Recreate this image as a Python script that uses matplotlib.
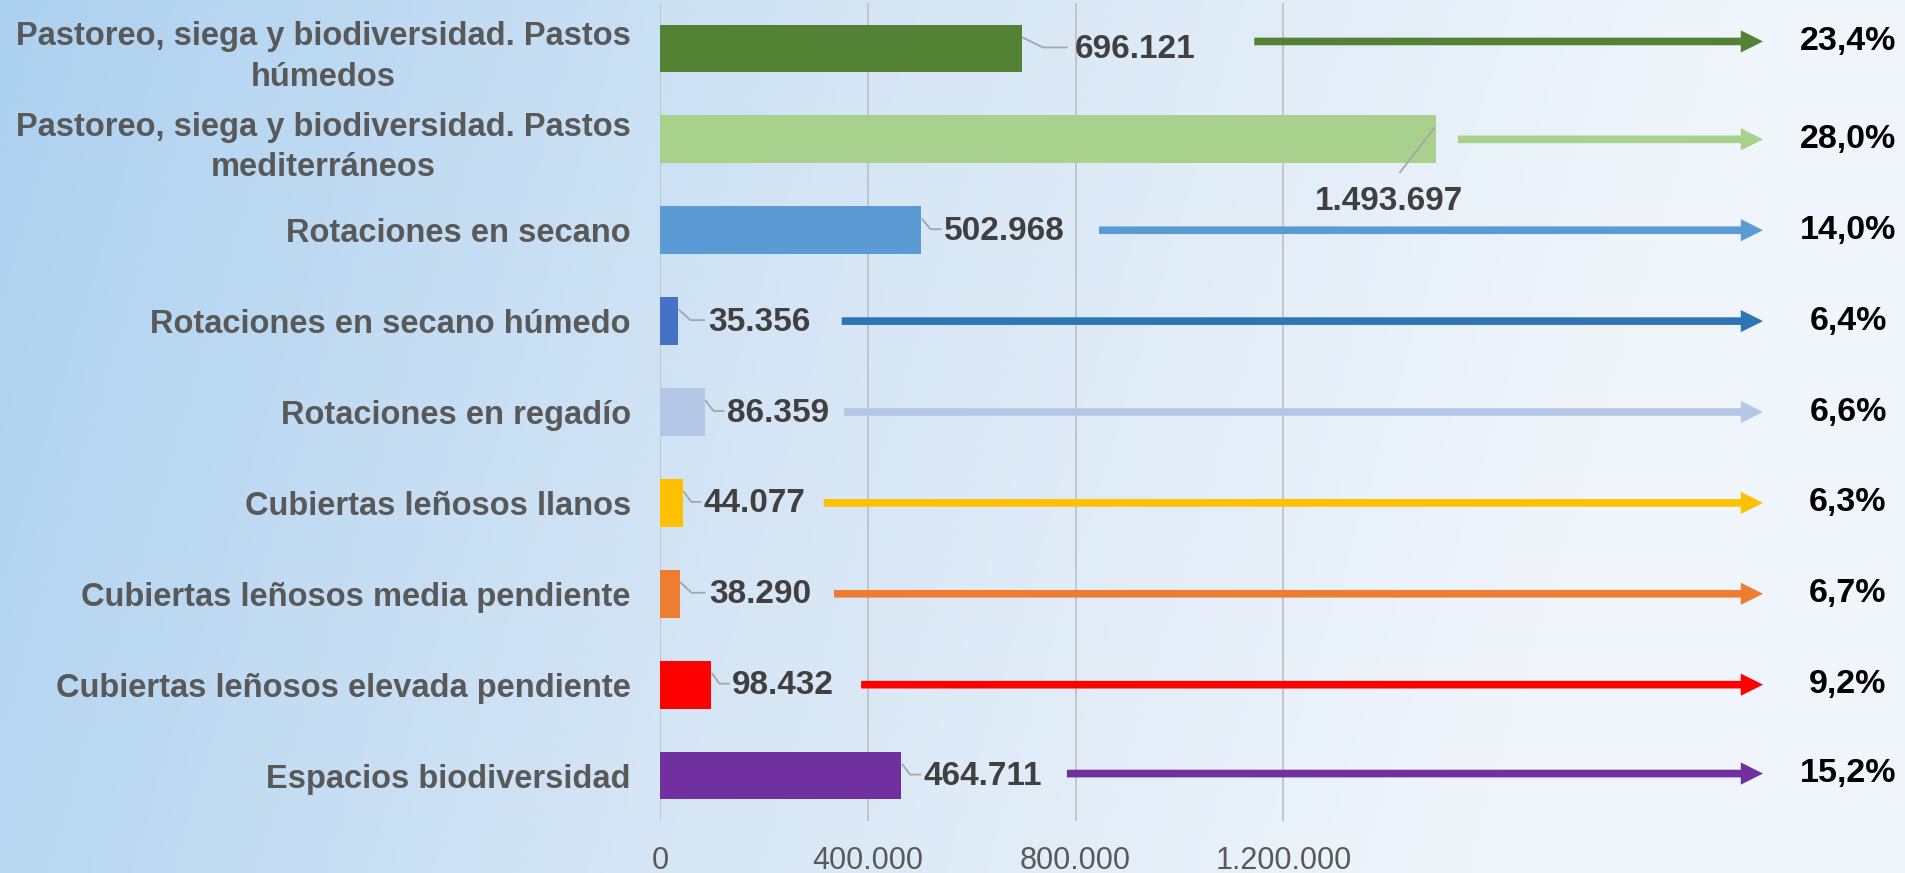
import matplotlib.pyplot as plt
import numpy as np
from matplotlib.patches import FancyArrowPatch

categories = [
    "Pastoreo, siega y biodiversidad. Pastos\nhúmedos",
    "Pastoreo, siega y biodiversidad. Pastos\nmediterráneos",
    "Rotaciones en secano",
    "Rotaciones en secano húmedo",
    "Rotaciones en regadío",
    "Cubiertas leñosos llanos",
    "Cubiertas leñosos media pendiente",
    "Cubiertas leñosos elevada pendiente",
    "Espacios biodiversidad",
]
values = [696121, 1493697, 502968, 35356, 86359, 44077, 38290, 98432, 464711]
shares = ["23,4%", "28,0%", "14,0%", "6,4%", "6,6%", "6,3%", "6,7%", "9,2%", "15,2%"]
ticks = [0, 400000, 800000, 1200000]
tick_labels = ["0", "400.000", "800.000", "1.200.000"]

bar_colors = ["#548235", "#A9D18E", "#5B9BD5", "#4472C4", "#B4C7E7",
              "#FFC000", "#ED7D31", "#FF0000", "#7030A0"]
arrow_colors = ["#548235", "#A9D18E", "#5B9BD5", "#2E75B6", "#B4C7E7",
                "#FFC000", "#ED7D31", "#FF0000", "#7030A0"]

# layout (pixels): bar end -> value label, value label -> arrow, arrow vertical nudge
label_gap = [53, 0, 23, 30, 22, 21, 29, 21, 22]
arrow_gap = [59, 22, 34, 31, 15, 18, 23, 27, 25]
arrow_dy = [-7, 0, 0, 0, 0, 0, 0, 0, -2]

W, H = 1905, 873
fig = plt.figure(figsize=(W / 100, H / 100), dpi=100)

# background gradient
bg = fig.add_axes([0, 0, 1, 1], zorder=-10)
gx = np.linspace(0, 1, 400)
gy = np.linspace(0, 1, 200)
X, Y = np.meshgrid(gx, gy)
left = np.array([172, 209, 240]) / 255
mid = np.array([212, 229, 245]) / 255
right = np.array([240, 245, 251]) / 255
t = np.clip(X * 1.1 + 0.15 * Y, 0, 1)[..., None]
img = np.where(t < 0.5, left + (mid - left) * (t / 0.5), mid + (right - mid) * ((t - 0.5) / 0.5))
bg.imshow(img, aspect="auto", extent=[0, 1, 0, 1], origin="upper")
bg.axis("off")

x0 = 660
ax_top, ax_bot = 3, 821
ax = fig.add_axes([x0 / W, 1 - ax_bot / H, 1 - x0 / W, (ax_bot - ax_top) / H])
ax.patch.set_alpha(0)
px_per_unit = 207.8 / 400000
ux = 1 / px_per_unit                      # data units per pixel (x)
uy = 9 / (ax_bot - ax_top)                # data units per pixel (y)
ax.set_xlim(0, (W - x0) * ux)
ax.set_ylim(8.5, -0.5)

y = np.arange(len(categories))
ax.barh(y, values, height=0.525, color=bar_colors, zorder=2)

for s in ax.spines.values():
    s.set_visible(False)
ax.set_xticks(ticks)
ax.set_xticklabels(tick_labels, family="Liberation Sans", fontsize=22, color="#595959")
ax.grid(axis="x", color="#c2c2c2", lw=1.3, zorder=0)
ax.tick_params(axis="x", length=0, pad=18)
ax.set_yticks(y)
ax.set_yticklabels(categories, family="Liberation Sans", fontweight="bold",
                   fontsize=23.5, color="#595959", linespacing=1.4)
for tl in ax.get_yticklabels():
    tl.set_multialignment("center")
ax.tick_params(axis="y", length=0, pad=21)

# value labels with leader lines
val_texts = []
for i, v in enumerate(values):
    lab = f"{v:,}".replace(",", ".")
    if i == 1:
        tx = ax.text(v - 47 * ux, i + 62 * uy, lab, ha="center", va="center",
                     family="Liberation Sans", fontweight="bold", fontsize=24,
                     color="#404040", zorder=4)
        ax.plot([v - 2 * ux, v - 36 * ux], [i - 11 * uy, i + 33 * uy],
                color="#a6a6a6", lw=1.3, zorder=3)
    else:
        g = label_gap[i]
        tx = ax.text(v + g * ux, i + 1 * uy, lab, ha="left", va="center",
                     family="Liberation Sans", fontweight="bold", fontsize=24,
                     color="#404040", zorder=4)
        ax.plot([v + 1 * ux, v + 0.4 * g * ux, v + 0.85 * g * ux],
                [i - 11 * uy, i - 1 * uy, i - 1 * uy],
                color="#a6a6a6", lw=1.3, zorder=3)
    val_texts.append(tx)

fig.canvas.draw()
renderer = fig.canvas.get_renderer()
inv = ax.transData.inverted()

tip_x = (1763 - x0) * ux
for i, v in enumerate(values):
    if i == 1:
        start = v + arrow_gap[i] * ux
    else:
        bb = val_texts[i].get_window_extent(renderer)
        start = inv.transform((bb.x1, 0))[0] + arrow_gap[i] * ux
    yy = i + arrow_dy[i] * uy
    arr = FancyArrowPatch((start, yy), (tip_x, yy),
                          arrowstyle="simple,head_length=16,head_width=16,tail_width=5.5",
                          mutation_scale=1, color=arrow_colors[i], lw=0, zorder=3,
                          shrinkA=0, shrinkB=0)
    ax.add_patch(arr)
    ax.text((1848 - x0) * ux, yy, shares[i], ha="center", va="center",
            family="Liberation Sans", fontweight="bold", fontsize=24.5,
            color="black", zorder=4)

fig.savefig("out.png", dpi=100)
